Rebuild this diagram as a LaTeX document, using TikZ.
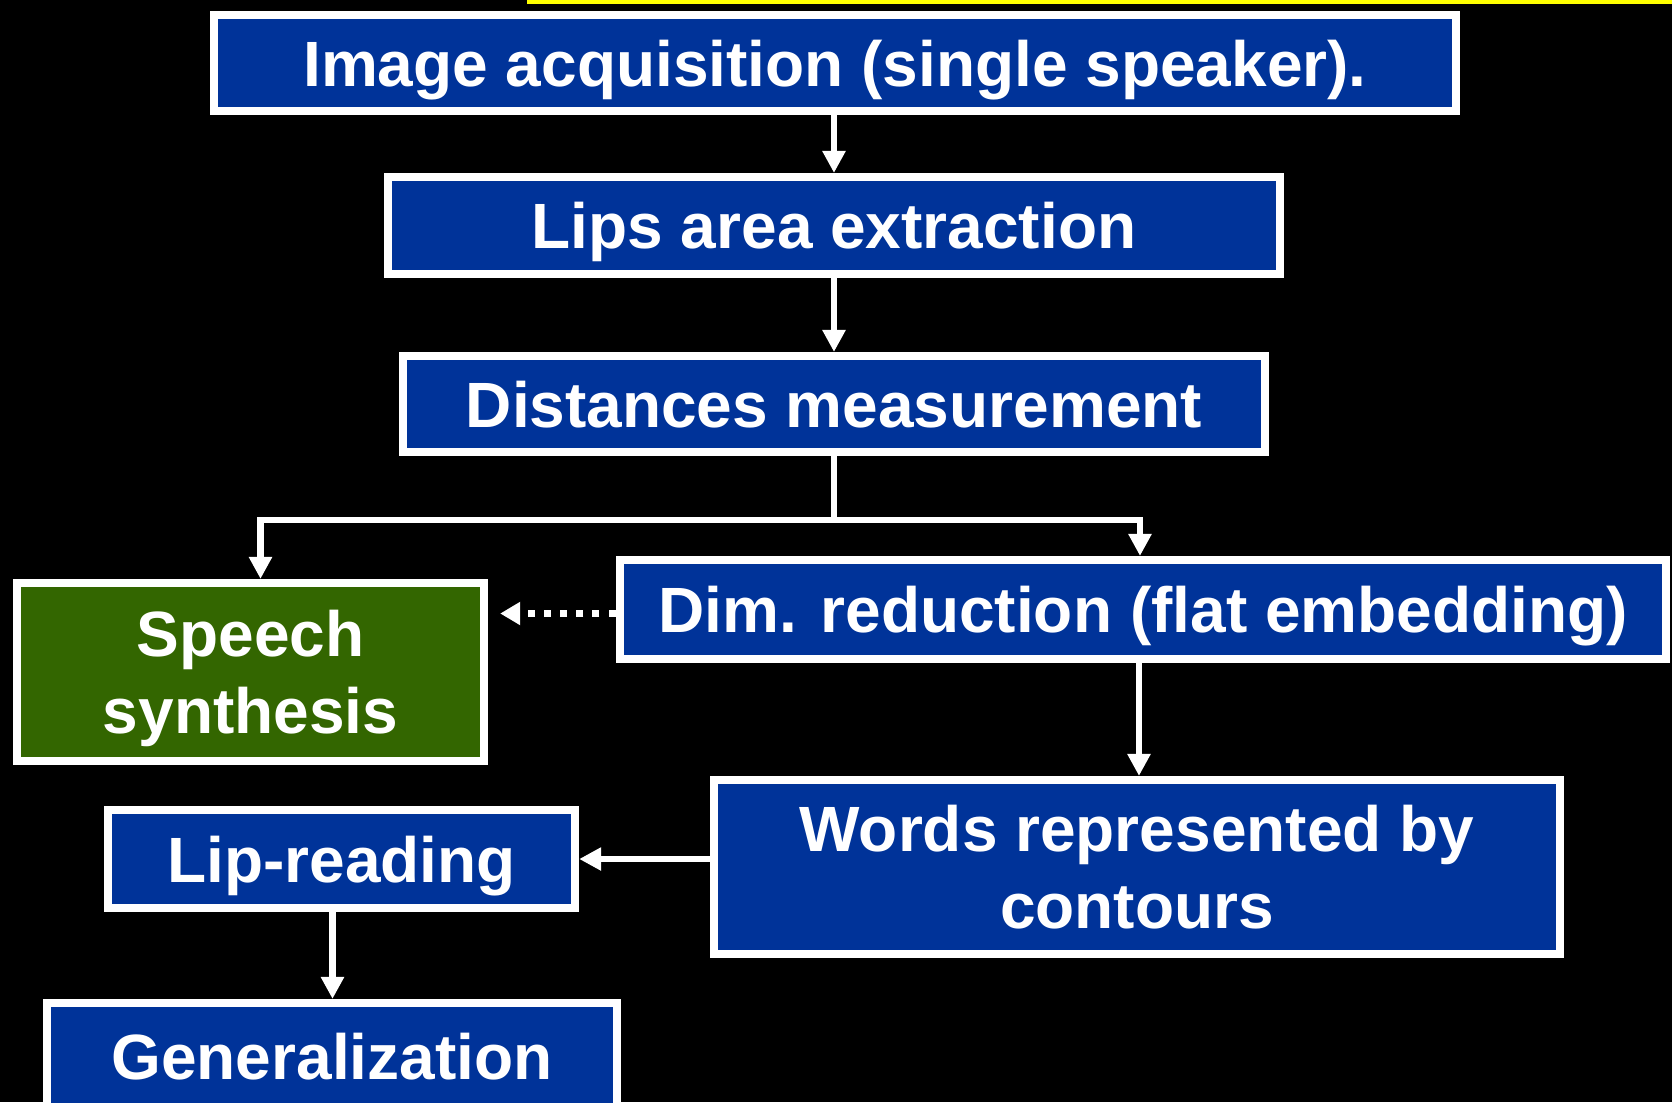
\documentclass[tikz,border=0pt]{standalone}
\usepackage{fontspec}
\setmainfont{Liberation Sans}
\usepackage{tikz}
\usetikzlibrary{arrows.meta, positioning, calc}
\definecolor{slideblue}{RGB}{0, 51, 153}
\definecolor{slidegreen}{RGB}{51, 102, 0}
\definecolor{slideyellow}{RGB}{255, 255, 0}

\begin{document}
\begin{tikzpicture}[
        x=0.01cm, y=-0.01cm,
        stage/.style={rectangle, draw=white, fill=slideblue, line width=2.3pt, align=center, text=white, inner sep=0pt, text depth=0pt, font=\bfseries\fontsize{18.2}{21.8}\selectfont},
        outstage/.style={stage, fill=slidegreen},
        arrow/.style={-{Triangle[length=0.22cm, width=0.22cm]}, line width=1.8pt, draw=white},
        link/.style={line width=1.8pt, draw=white},
        dotarrow/.style={-{Triangle[length=0.2cm, width=0.22cm]}, line width=2pt, draw=white, dash pattern=on 2pt off 2.6pt}
    ]
        \fill[black] (0,0) rectangle (1672,1102);
        \useasboundingbox (0,0) rectangle (1672,1102);
        \fill[slideyellow] (527,0) rectangle (1672,3.5);

        \node[stage, minimum width=12.42cm, minimum height=0.96cm] (acq) at (835,63) {Image acquisition (single speaker).};
        \node[stage, minimum width=8.91cm, minimum height=0.97cm] (lips) at (834,225.5) {Lips area extraction};
        \node[stage, minimum width=8.62cm, minimum height=0.96cm] (dist) at (834,404) {Distances measurement};
        \node[outstage, minimum width=4.67cm, minimum height=1.78cm] (speech) at (250.5,672) {Speech\\synthesis};
        \node[stage, minimum width=10.46cm, minimum height=0.99cm] (dim) at (1143,609.5) {Dim. reduction (flat embedding)};
        \node[stage, minimum width=8.46cm, minimum height=1.74cm] (words) at (1137,867) {Words represented by\\contours};
        \node[stage, minimum width=4.67cm, minimum height=0.98cm] (lip) at (341.5,859) {Lip-reading};
        \node[stage, minimum width=5.70cm, minimum height=1.06cm] (gen) at (332,1056) {Generalization};

        \draw[arrow] (acq.south -| lips.north) -- (lips.north);
        \draw[arrow] (lips.south) -- (lips.south |- dist.north);

        % split towards the two branches
        \path (dist.south) ++(0,64) coordinate (split);
        \draw[link] (dist.south) -- (split);
        \draw[arrow] (split) -| ($(speech.north)+(10,0)$);
        \draw[arrow] (split) -| ($(dim.north)+(-3,0)$);

        \draw[dotarrow] ($(dim.west)+(0,4)$) -- ($(speech.east |- dim.west)+(12,4)$);
        \draw[arrow] ($(dim.south)+(-4,0)$) -- ($(dim.south |- words.north)+(-4,0)$);
        \draw[arrow] (words.west |- lip.east) -- (lip.east);
        \draw[arrow] ($(lip.south)+(-9,0)$) -- ($(lip.south |- gen.north)+(-9,0)$);
    \end{tikzpicture}
\end{document}
